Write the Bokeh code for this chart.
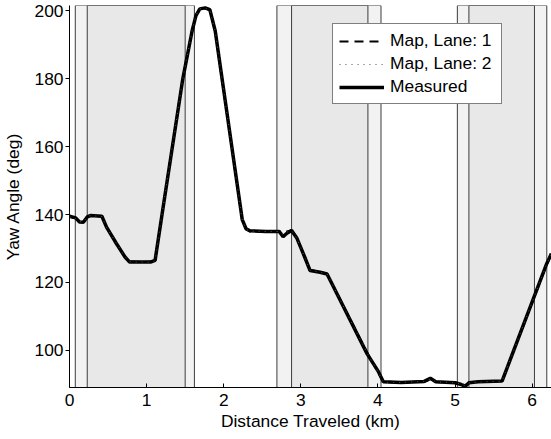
from bokeh.plotting import figure
from bokeh.models import Range1d, FixedTicker, Legend, LegendItem
from bokeh.embed import file_html
from bokeh.resources import INLINE

# ---- data ----
dist_km = [0.00, 0.08, 0.13, 0.18, 0.23, 0.27, 0.42, 0.48, 0.61, 0.72, 0.78, 0.90, 1.05, 1.11,
           1.20, 1.47, 1.59, 1.64, 1.69, 1.76, 1.82, 1.89, 2.24, 2.29, 2.34, 2.55, 2.72, 2.77,
           2.82, 2.88, 2.95, 3.05, 3.12, 3.25, 3.34, 3.86, 4.00, 4.07, 4.30, 4.60, 4.68, 4.75,
           5.00, 5.08, 5.13, 5.18, 5.30, 5.61, 6.19, 6.25]
measured_yaw = [139.5, 139.0, 137.8, 137.7, 139.3, 139.7, 139.5, 136.3, 131.4, 127.5, 126.0, 126.0,
                126.0, 126.5, 140.0, 180.0, 194.0, 198.5, 200.5, 200.8, 200.3, 194.0, 138.5, 135.8,
                135.2, 135.0, 135.0, 133.5, 134.5, 135.3, 133.0, 127.5, 123.5, 123.0, 122.5, 99.0,
                94.0, 90.8, 90.6, 90.9, 91.8, 90.8, 90.5, 90.0, 89.4, 90.5, 90.8, 91.0, 125.6, 128.5]
map_lane1_yaw = [139.3, 138.9, 138.0, 137.9, 139.2, 139.6, 139.5, 136.5, 131.2, 127.4, 126.2, 126.1,
                 126.1, 126.6, 140.3, 180.3, 194.3, 198.7, 200.4, 200.6, 200.2, 193.6, 138.2, 135.6,
                 135.0, 135.0, 135.1, 134.6, 135.0, 135.4, 132.8, 127.3, 123.7, 123.1, 122.6, 99.4,
                 93.6, 90.7, 90.6, 90.8, 91.5, 90.7, 90.6, 90.2, 89.8, 90.4, 90.8, 91.0, 125.3, 128.3]
map_lane2_yaw = [139.4, 138.8, 137.9, 137.8, 139.3, 139.7, 139.4, 136.2, 131.5, 127.6, 126.1, 126.0,
                 126.0, 126.4, 140.1, 180.1, 194.1, 198.6, 200.5, 200.7, 200.2, 193.8, 138.4, 135.7,
                 135.1, 135.0, 135.0, 134.2, 134.8, 135.3, 132.9, 127.4, 123.6, 123.0, 122.5, 99.2,
                 93.8, 90.6, 90.6, 90.9, 91.6, 90.8, 90.5, 90.1, 89.6, 90.4, 90.7, 91.0, 125.5, 128.4]

# lane-change segments (outer and inner extents, km)
outer_start = [0.075, 2.69, 5.03]
outer_end = [1.62, 4.04, 6.19]
inner_start = [0.23, 2.88, 5.18]
inner_end = [1.50, 3.87, 6.03]

x_ticks = [0, 1, 2, 3, 4, 5, 6]
y_ticks = [100, 120, 140, 160, 180, 200]
x_min, x_max = 0.0, 6.251
y_min, y_max = 89.1, 201.5

FONT = "Liberation Sans"
FS = "17.4px"

p = figure(width=551, height=439, x_range=Range1d(x_min, x_max), y_range=Range1d(y_min, y_max),
           output_backend="svg", toolbar_location=None,
           min_border_left=69, min_border_right=0, min_border_top=5, min_border_bottom=52)
p.outline_line_color = None
p.xgrid.grid_line_color = None
p.ygrid.grid_line_color = None
p.background_fill_color = "white"
p.border_fill_color = "white"

# shaded segments
p.quad(left=outer_start, right=outer_end, bottom=y_min, top=y_max,
       fill_color="#f2f2f2", line_color="#3c3c3c", line_width=1)
p.quad(left=inner_start, right=inner_end, bottom=y_min, top=y_max,
       fill_color="#e8e8e8", line_color="#3c3c3c", line_width=1)

r_meas = p.line(dist_km, measured_yaw, line_color="black", line_width=3.5)
r_l1 = p.line(dist_km, map_lane1_yaw, line_color="black", line_width=2, line_dash="9 6")
r_l2 = p.line(dist_km, map_lane2_yaw, line_color="#555555", line_width=1, line_dash="1 5")

# axes
for ax in (p.xaxis[0], p.yaxis[0]):
    ax.axis_line_color = "black"
    ax.axis_line_width = 1
    ax.major_tick_line_color = "black"
    ax.minor_tick_line_color = None
    ax.major_label_text_font = FONT
    ax.major_label_text_font_size = FS
    ax.major_label_text_color = "black"
    ax.axis_label_text_font = FONT
    ax.axis_label_text_font_size = FS
    ax.axis_label_text_font_style = "normal"
    ax.axis_label_text_color = "black"

p.xaxis.ticker = FixedTicker(ticks=x_ticks)
p.yaxis.ticker = FixedTicker(ticks=y_ticks)
p.xaxis.axis_label = "Distance Traveled (km)"
p.yaxis.axis_label = "Yaw Angle (deg)"
p.xaxis.major_tick_in = 4
p.xaxis.major_tick_out = 0
p.yaxis.major_tick_in = 0
p.yaxis.major_tick_out = 4
p.xaxis.major_label_standoff = 6
p.yaxis.major_label_standoff = 2
p.xaxis.axis_label_standoff = 2
p.yaxis.axis_label_standoff = 8

legend = Legend(items=[
    LegendItem(label="Map, Lane: 1", renderers=[r_l1]),
    LegendItem(label="Map, Lane: 2", renderers=[r_l2]),
    LegendItem(label="Measured", renderers=[r_meas]),
], location=(263, 283))
legend.margin = 0
legend.padding = 6
legend.spacing = 2
legend.label_height = 20
legend.label_width = 105
legend.glyph_height = 20
legend.glyph_width = 45
legend.label_standoff = 6
legend.label_text_font = FONT
legend.label_text_font_size = FS
legend.label_text_color = "black"
legend.border_line_color = "black"
legend.border_line_width = 1
legend.background_fill_color = "white"
legend.background_fill_alpha = 1.0
p.add_layout(legend, "center")

open("out.html", "w").write(file_html(p, INLINE))
